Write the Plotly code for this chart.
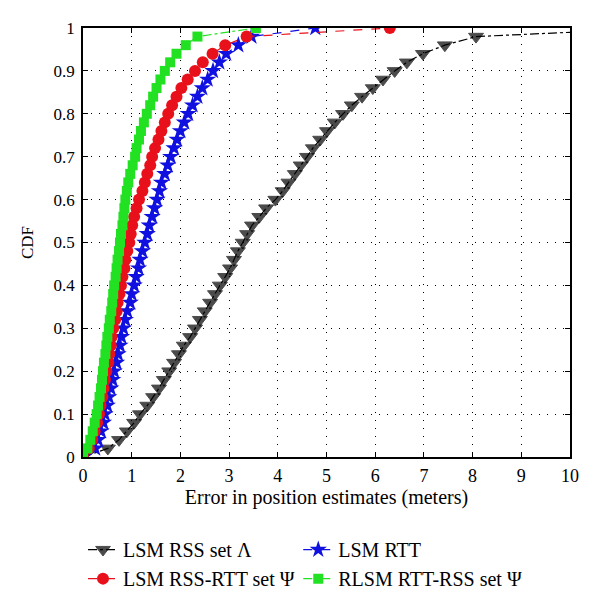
import plotly.graph_objects as go

cdf_levels = [round(0.02 * k, 2) for k in range(51)]

# LSM RSS set Lambda (black)
black_x = [0, 0.51, 0.74, 0.90, 1.05, 1.17, 1.32, 1.44, 1.56, 1.66, 1.77, 1.87, 1.97, 2.07, 2.20,
           2.30, 2.40, 2.50, 2.61, 2.71, 2.81, 2.92, 3.02, 3.10, 3.18, 3.28, 3.37, 3.47, 3.62,
           3.76, 3.95, 4.10, 4.22, 4.35, 4.47, 4.60, 4.72, 4.87, 5.01, 5.17, 5.34, 5.52, 5.73,
           5.95, 6.16, 6.40, 6.65, 6.98, 7.43, 8.07, 10.0]
black_y = cdf_levels[:50] + [0.99]

# LSM RSS-RTT set Psi (red)
red_x = [0, 0.12, 0.19, 0.24, 0.29, 0.33, 0.36, 0.40, 0.42, 0.45, 0.48, 0.52, 0.54, 0.57, 0.59,
         0.62, 0.66, 0.69, 0.71, 0.75, 0.78, 0.81, 0.85, 0.87, 0.91, 0.95, 0.98, 1.01, 1.05,
         1.10, 1.15, 1.22, 1.27, 1.32, 1.38, 1.42, 1.48, 1.55, 1.61, 1.68, 1.75, 1.83, 1.92,
         2.02, 2.15, 2.30, 2.46, 2.66, 2.92, 3.36, 6.30]
red_y = cdf_levels

# LSM RTT (blue)
blue_x = [0, 0.25, 0.31, 0.37, 0.42, 0.45, 0.50, 0.53, 0.57, 0.61, 0.64, 0.69, 0.72, 0.76, 0.79,
          0.83, 0.87, 0.91, 0.97, 1.00, 1.05, 1.09, 1.14, 1.17, 1.22, 1.27, 1.32, 1.36, 1.42,
          1.47, 1.52, 1.57, 1.61, 1.68, 1.74, 1.80, 1.87, 1.93, 2.00, 2.08, 2.16, 2.25, 2.35,
          2.45, 2.56, 2.67, 2.80, 2.94, 3.19, 3.46, 4.77]
blue_y = cdf_levels

# RLSM RTT-RSS set Psi (green)
green_x = [0, 0.09, 0.15, 0.20, 0.24, 0.28, 0.31, 0.34, 0.37, 0.39, 0.41, 0.43, 0.46, 0.48, 0.50,
           0.53, 0.55, 0.58, 0.60, 0.62, 0.64, 0.67, 0.69, 0.71, 0.74, 0.76, 0.78, 0.81, 0.83,
           0.85, 0.87, 0.90, 0.93, 0.97, 1.02, 1.07, 1.10, 1.15, 1.19, 1.25, 1.31, 1.38, 1.44,
           1.51, 1.59, 1.68, 1.79, 1.92, 2.11, 2.35, 3.55]
green_y = cdf_levels

x_ticks = list(range(0, 11))
y_ticks = [round(0.1 * k, 1) for k in range(11)]
y_tick_text = ["0", "0.1", "0.2", "0.3", "0.4", "0.5", "0.6", "0.7", "0.8", "0.9", "1"]

FONT = "Liberation Serif, DejaVu Serif, serif"

fig = go.Figure()

black_sizes = [13] * (len(black_x) - 1) + [0]
fig.add_trace(go.Scatter(
    x=black_x, y=black_y, mode="lines+markers", name="LSM RSS set \u039b", legend="legend",
    line=dict(color="black", width=1.2, dash="dashdot"),
    marker=dict(symbol="triangle-down", size=black_sizes, color="black",
                line=dict(color="black", width=1)),
))
fig.add_trace(go.Scatter(
    x=blue_x, y=blue_y, mode="lines+markers", name="LSM RTT", legend="legend2",
    line=dict(color="#1010e0", width=1.2, dash="dash"),
    marker=dict(symbol="star", size=13, color="#1010e0"),
))
fig.add_trace(go.Scatter(
    x=red_x, y=red_y, mode="lines+markers", name="LSM RSS-RTT set \u03a8", legend="legend",
    line=dict(color="#e8101a", width=1.2, dash="dash"),
    marker=dict(symbol="circle", size=12, color="#e8101a"),
))
fig.add_trace(go.Scatter(
    x=green_x, y=green_y, mode="lines+markers", name="RLSM RTT-RSS set \u03a8", legend="legend2",
    line=dict(color="#22e022", width=1.2, dash="dashdot"),
    marker=dict(symbol="square", size=10, color="#22e022"),
))

axis_common = dict(
    showline=True, linecolor="black", linewidth=1.5, mirror="ticks",
    ticks="inside", ticklen=5, tickcolor="black",
    showgrid=True, gridcolor="black", gridwidth=1, griddash="1px,7px",
    zeroline=False, automargin=False,
)

fig.update_xaxes(range=[0, 10], tickvals=x_ticks, ticklabelstandoff=2,
                 tickfont=dict(family=FONT, size=18, color="black"),
                 title=dict(text="Error in position estimates (meters)",
                            font=dict(family=FONT, size=20, color="black"), standoff=4),
                 **axis_common)
fig.update_yaxes(range=[0, 1], tickvals=y_ticks, ticktext=y_tick_text, ticklabelstandoff=3,
                 tickfont=dict(family=FONT, size=17, color="black"),
                 title=dict(text="CDF", font=dict(family=FONT, size=17, color="black"), standoff=16),
                 **axis_common)

legend_common = dict(orientation="v", xanchor="left", yanchor="top", yref="container",
                     font=dict(family=FONT, size=20, color="black"),
                     bgcolor="rgba(0,0,0,0)", tracegroupgap=0, traceorder="normal")

# page body has an 8px margin: figure is sized/offset to compensate
fig.update_layout(
    width=592, height=594,
    margin=dict(l=75, r=30, t=20, b=145),
    plot_bgcolor="white", paper_bgcolor="white",
    font=dict(family=FONT, size=16, color="black"),
    legend=dict(x=0.0, y=0.121, **legend_common),
    legend2=dict(x=0.442, y=0.121, **legend_common),
    showlegend=True,
)

fig.write_html("out.html")
